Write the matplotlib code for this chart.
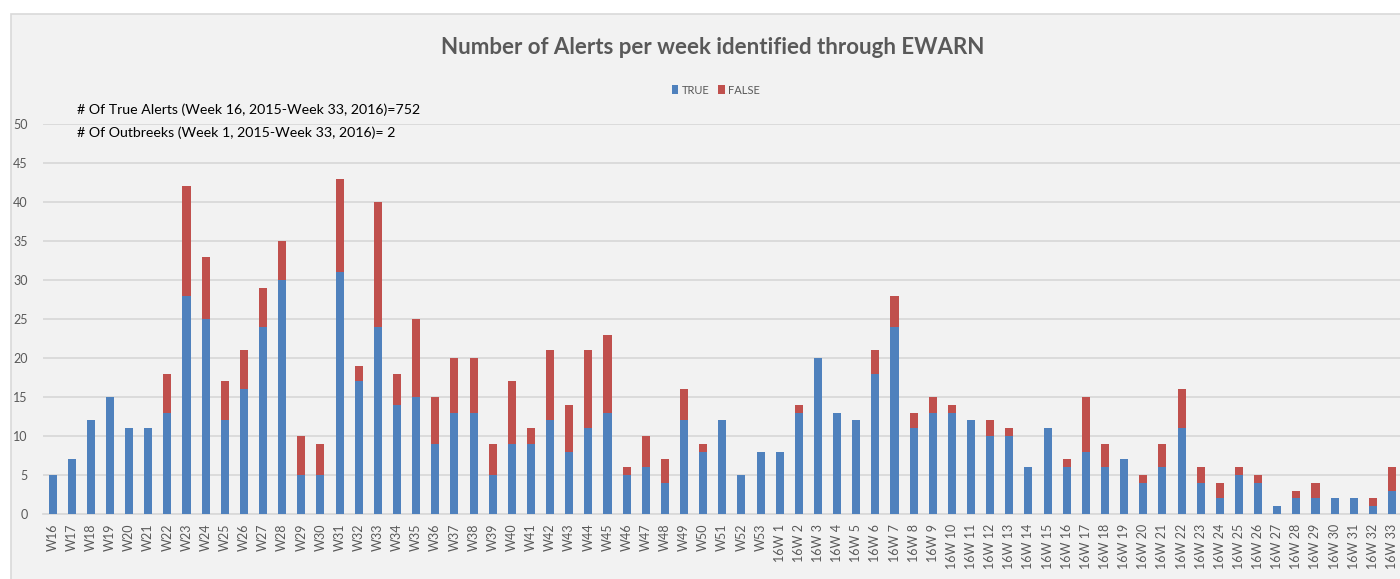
import matplotlib
matplotlib.use("Agg")
import matplotlib.pyplot as plt
from matplotlib.patches import Rectangle

weeks_2015 = ["W16", "W17", "W18", "W19", "W20", "W21", "W22", "W23", "W24", "W25",
              "W26", "W27", "W28", "W29", "W30", "W31", "W32", "W33", "W34", "W35",
              "W36", "W37", "W38", "W39", "W40", "W41", "W42", "W43", "W44", "W45",
              "W46", "W47", "W48", "W49", "W50", "W51", "W52", "W53"]
weeks_2016 = ["16W %d" % i for i in range(1, 34)]
categories = weeks_2015 + weeks_2016

true_2015 = [5, 7, 12, 15, 11, 11, 13, 28, 25, 12,
             16, 24, 30, 5, 5, 31, 17, 24, 14, 15,
             9, 13, 13, 5, 9, 9, 12, 8, 11, 13,
             5, 6, 4, 12, 8, 12, 5, 8]
false_2015 = [0, 0, 0, 0, 0, 0, 5, 14, 8, 5,
              5, 5, 5, 5, 4, 12, 2, 16, 4, 10,
              6, 7, 7, 4, 8, 2, 9, 6, 10, 10,
              1, 4, 3, 4, 1, 0, 0, 0]
true_2016 = [8, 13, 20, 13, 12, 18, 24, 11, 13, 13,
             12, 10, 10, 6, 11, 6, 8, 6, 7, 4,
             6, 11, 4, 2, 5, 4, 1, 2, 2, 2,
             2, 1, 3]
false_2016 = [0, 1, 0, 0, 0, 3, 4, 2, 2, 1,
              0, 2, 1, 0, 0, 1, 7, 3, 0, 1,
              3, 5, 2, 2, 1, 1, 0, 1, 2, 0,
              0, 1, 3]
true_vals = true_2015 + true_2016
false_vals = false_2015 + false_2016

title = "Number of Alerts per week identified through EWARN"
note1 = "# Of True Alerts (Week 16, 2015-Week 33, 2016)=752"
note2 = "# Of Outbreeks (Week 1, 2015-Week 33, 2016)= 2"

BLUE = "#4f81bd"
RED = "#c0504d"
GRAY_TXT = "#595959"
BG = "#f2f2f2"

plt.rcParams['font.family'] = ["Lato", "DejaVu Sans"]

W, H = 1400, 579
fig = plt.figure(figsize=(W / 100, H / 100), dpi=100)
fig.patch.set_facecolor("white")
bg = Rectangle((11 / W, -0.05), 1.1, (H - 14) / H + 0.05,
               transform=fig.transFigure, facecolor=BG,
               edgecolor="#d9d9d9", linewidth=1.2, zorder=-10)
fig.patches.append(bg)

left = 43 / W
right = 1401.6 / W
bottom = (H - 514) / H
top = (H - 124) / H
ax = fig.add_axes([left, bottom, right - left, top - bottom])
ax.set_facecolor("none")
ax.set_zorder(1)

x = list(range(len(categories)))
ax.bar(x, true_vals, width=0.42, color=BLUE, label="TRUE", zorder=3)
ax.bar(x, false_vals, width=0.42, bottom=true_vals, color=RED, label="FALSE", zorder=3)

ax.set_xlim(-0.5, len(categories) - 0.5)
ax.set_ylim(0, 50)
ax.set_yticks(range(0, 51, 5))
ax.yaxis.grid(True, color="#d9d9d9", linewidth=1.3, zorder=0)
ax.set_axisbelow(True)
for s in ["top", "right", "left"]:
    ax.spines[s].set_visible(False)
ax.spines["bottom"].set_color("#d9d9d9")
ax.spines["bottom"].set_linewidth(1.3)
ax.tick_params(axis="both", length=0, colors=GRAY_TXT, labelsize=9)
ax.tick_params(axis="y", pad=11)
ax.tick_params(axis="x", pad=7)
ax.set_xticks(x)
ax.set_xticklabels(categories, rotation=90, va="top", ha="center")

fig.text(713 / W, 1 - 47 / H, title, ha="center", va="center",
         fontsize=16, color=GRAY_TXT, fontweight="bold")
fig.text(77 / W, 1 - 110 / H, note1, ha="left", va="center", fontsize=10.2, color="black")
fig.text(77 / W, 1 - 133 / H, note2, ha="left", va="center", fontsize=10.2, color="black")

leg = fig.legend(loc="center", bbox_to_anchor=(716 / W, 1 - 90 / H), ncol=2,
                 frameon=False, fontsize=8, handlelength=0.6, handleheight=0.8,
                 handletextpad=0.3, columnspacing=0.8, labelcolor=GRAY_TXT)

fig.savefig("out.png", dpi=100, facecolor=fig.get_facecolor())
